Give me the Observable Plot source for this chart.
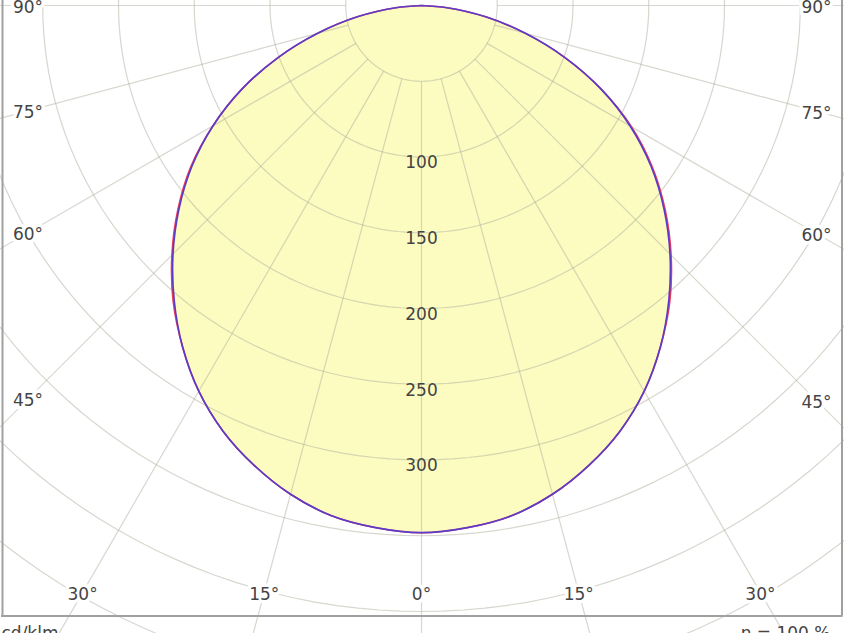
<!DOCTYPE html>
<html><head><meta charset="utf-8">
<script src="https://cdn.jsdelivr.net/npm/d3@7"></script>
<script src="https://cdn.jsdelivr.net/npm/@observablehq/plot@0.6"></script>
<style>
body{margin:0;background:#fff;}
#chart svg{display:block;overflow:hidden;}
</style>
</head><body><div id="chart"></div>
<script>
// Luminous intensity (cd/klm) per gamma angle, 5° steps
const gamma = [0,5,10,15,20,25,30,35,40,45,50,55,60,65,70,75,80,85,90];
const c0   = [348,346,342,334,323,310,294,275,255,233,210,186,160,131,101,71,43,17,0]; // right, red
const c180 = [348,346,342,334,323,310,294,275,255,233,210,186,159,131,101,71,43,17,0]; // left, red
const c90  = [348,346,342,334,323,310,294,275,254,232,209,185,159,131,101,71,43,17,0]; // right, blue
const c270 = [348,346,342,334,323,310,294,275,254,232,209,185,159,131,101,71,43,17,0]; // left, blue
const ringValues = [50,100,150,200,250,300,350,400,450,500];
const ringLabels = [100,150,200,250,300];
const spokeAngles = [-180,-165,-150,-135,-120,-105,-90,-75,-60,-45,-30,-15,0,15,30,45,60,75,90,105,120,135,150,165];
const angleTicks = [-90,-75,-60,-45,-30,-15,0,15,30,45,60,75,90];
const unitLabel = "cd/klm";
const effLabel = "η = 100 %";

// layout
const W = 844, H = 633, cx = 421, cy = 5, s = 1.515;
const xPx = p => (p - cx) / s, yPx = p => (p - cy) / s;
const rad = a => a * Math.PI / 180;
const pol = (a, r) => ({X: r * Math.sin(rad(a)), Y: r * Math.cos(rad(a))});

function outline(left, right) {
  const pts = [];
  for (let i = gamma.length - 1; i >= 0; i--) pts.push(pol(-gamma[i], left[i]));
  for (let i = 1; i < gamma.length; i++) pts.push(pol(gamma[i], right[i]));
  return pts;
}
const redPts = outline(c180, c0);
const bluePts = outline(c270, c90);

const ringPts = ringValues.flatMap(r => d3.range(-180, 181, 2).map(a => ({...pol(a, r), r})));
const spokes = spokeAngles.map(a => ({a, p1: pol(a, 50), p2: pol(a, 800)}));

// angle label positions: where the ray meets the label box
const boxL = xPx(27.5), boxR = xPx(816), boxB = yPx(592);
const angleLab = angleTicks.map(a => {
  const sx = Math.sin(rad(a)), cyv = Math.cos(rad(a));
  const tSide = Math.abs(sx) > 1e-9 ? (a < 0 ? -boxL : boxR) / Math.abs(sx) : Infinity;
  const tBot = cyv > 1e-9 ? boxB / cyv : Infinity;
  const t = Math.min(tSide, tBot);
  return {X: t * sx, Y: t * cyv, text: Math.abs(a) + "°"};
});

const font = "DejaVu Sans, Verdana, sans-serif";
const plot = Plot.plot({
  width: W, height: H,
  margin: 0,
  x: {domain: [xPx(0), xPx(W)], range: [0, W], axis: null},
  y: {domain: [yPx(0), yPx(H)], range: [0, H], axis: null},
  style: {fontFamily: font, fontSize: "17px", background: "#fff"},
  marks: [
    Plot.line(bluePts, {x: "X", y: "Y", fill: "#fcfcc0", stroke: "none", curve: "catmull-rom"}),
    Plot.line(ringPts, {x: "X", y: "Y", z: "r", stroke: "#b0b0a0", strokeOpacity: 0.5, strokeWidth: 1.2}),
    Plot.link(spokes, {x1: d => d.p1.X, y1: d => d.p1.Y, x2: d => d.p2.X, y2: d => d.p2.Y, stroke: "#b0b0a0", strokeOpacity: 0.5, strokeWidth: 1.2}),
    Plot.line(redPts, {x: "X", y: "Y", stroke: "#ee3a5a", strokeWidth: 1.6, curve: "catmull-rom"}),
    Plot.line(bluePts, {x: "X", y: "Y", stroke: "#5a3cc8", strokeWidth: 1.7, curve: "catmull-rom"}),
    Plot.text(ringLabels, {x: 0, y: d => d, dy: 6, text: d => String(d), fill: "#444", fontSize: 17}),
    Plot.text(angleLab, {x: "X", y: "Y", dy: 2, text: "text", fill: "#444", fontSize: 17, stroke: "white", strokeWidth: 7}),
    Plot.ruleX([xPx(2), xPx(841.5)], {y1: yPx(-5), y2: yPx(615.5), stroke: "#a0a0a0", strokeWidth: 2}),
    Plot.ruleY([yPx(615.5)], {x1: xPx(1), x2: xPx(842.5), stroke: "#a0a0a0", strokeWidth: 2}),
    Plot.text([unitLabel], {frameAnchor: "bottom-left", dx: 1, dy: -7, lineAnchor: "top", textAnchor: "start", text: d => d, fill: "#444", fontSize: 17}),
    Plot.text([effLabel], {frameAnchor: "bottom-right", dx: -14, dy: -7, lineAnchor: "top", textAnchor: "end", text: d => d, fill: "#444", fontSize: 17})
  ]
});
document.getElementById("chart").appendChild(plot);
</script>
</body></html>
